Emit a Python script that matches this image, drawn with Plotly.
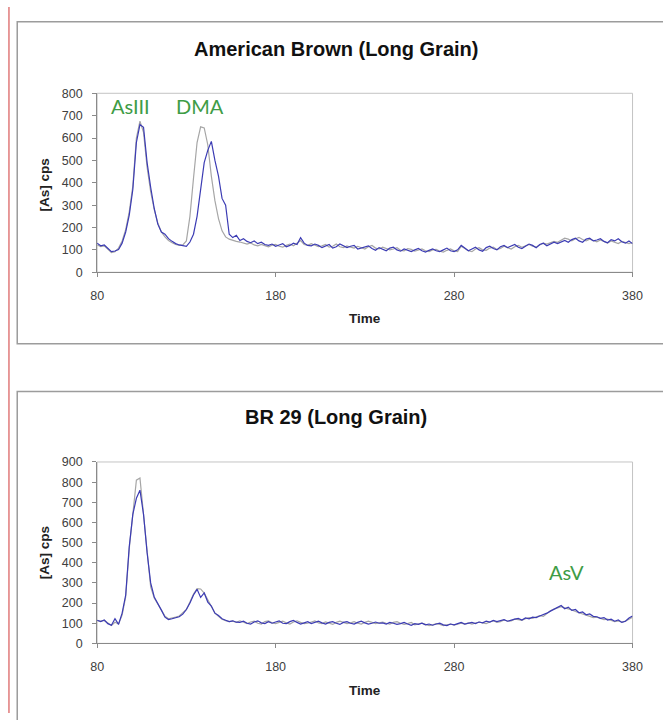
import plotly.graph_objects as go

W, H = 663, 720

# Retention time grid (s), one reading every 2 s
time = list(range(80, 381, 2))

# American Brown (Long Grain): standard (grey) and sample (blue) traces, cps
brown_std = [
    122, 115, 118, 105, 88, 92, 108, 140, 190, 270,
    385, 600, 675, 625, 470, 360, 280, 220, 180, 158,
    142, 132, 124, 120, 122, 140, 250, 420, 580, 650,
    645, 570, 430, 320, 240, 185, 158, 148, 142, 138,
    135, 130, 126, 131, 122, 118, 124, 119, 114, 121,
    124, 116, 112, 120, 126, 118, 130, 142, 124, 120,
    128, 122, 114, 118, 124, 112, 116, 126, 114, 110,
    118, 112, 108, 116, 111, 104, 114, 120, 108, 104,
    112, 106, 100, 104, 110, 98, 96, 106, 102, 94,
    98, 104, 96, 92, 100, 102, 94, 90, 98, 104,
    96, 92, 116, 104, 96, 92, 104, 110, 100, 98,
    108, 112, 102, 106, 116, 110, 104, 114, 120, 112,
    118, 124, 116, 112, 122, 130, 126, 132, 138, 134,
    142, 152, 148, 140, 150, 156, 146, 140, 148, 142,
    136, 144, 138, 130, 140, 134, 128, 138, 134, 128,
    132,
]
brown_sample = [
    130, 118, 122, 108, 92, 95, 102, 130, 180, 255,
    370, 580, 660, 648, 490, 380, 285, 215, 180, 170,
    150, 138, 128, 122, 118, 116, 135, 170, 250, 360,
    490, 545, 585, 500, 430, 330, 300, 170, 155, 165,
    142, 150, 138, 132, 140, 128, 134, 124, 120, 126,
    116, 122, 128, 114, 120, 130, 124, 154, 130, 120,
    118, 126, 120, 110, 116, 124, 108, 114, 126, 118,
    110, 116, 120, 104, 108, 114, 118, 106, 98, 110,
    104, 96, 108, 112, 100, 94, 104, 98, 92, 100,
    106, 96, 90, 98, 104, 96, 92, 100, 108, 96,
    92, 100, 120, 108, 96, 104, 112, 100, 94, 110,
    116, 106, 100, 114, 120, 110, 118, 124, 112, 106,
    116, 126, 120, 110, 124, 130, 118, 126, 134, 128,
    136, 142, 134, 146, 152, 140, 134, 148, 152, 140,
    144, 150, 138, 132, 146, 140, 150, 136, 130, 140,
    128,
]

# BR 29 (Long Grain): standard (grey) and sample (blue) traces, cps
br29_std = [
    113, 110, 114, 100, 89, 105, 96, 140, 230, 470,
    660, 810, 820, 650, 460, 280, 225, 195, 160, 135,
    122, 125, 130, 136, 150, 168, 205, 245, 272, 270,
    250, 215, 180, 150, 135, 120, 113, 108, 110, 104,
    112, 104, 98, 106, 110, 100, 96, 108, 112, 102,
    98, 104, 110, 102, 96, 106, 112, 104, 98, 100,
    108, 112, 102, 98, 106, 100, 94, 104, 110, 104,
    98, 102, 108, 100, 96, 104, 110, 104, 98, 102,
    106, 100, 96, 104, 108, 100, 94, 98, 104, 92,
    96, 100, 94, 88, 92, 98, 94, 88, 92, 96,
    90, 94, 100, 96, 102, 96, 100, 106, 102, 98,
    106, 112, 104, 108, 116, 110, 112, 120, 118, 114,
    122, 128, 124, 130, 138, 134, 148, 162, 170, 176,
    182, 176, 172, 166, 158, 150, 146, 140, 134, 128,
    130, 124, 118, 120, 114, 108, 112, 106, 110, 118,
    130,
]
br29_sample = [
    115, 108, 116, 98, 90, 122, 94, 150, 240, 480,
    640, 720, 760, 640, 450, 300, 230, 200, 165, 130,
    118, 122, 126, 132, 145, 168, 200, 240, 268, 228,
    250, 205, 185, 150, 138, 122, 115, 108, 112, 105,
    104, 110, 100, 96, 106, 112, 102, 98, 108, 100,
    106, 112, 100, 98, 108, 114, 104, 96, 102, 108,
    98, 104, 110, 102, 96, 104, 108, 100, 94, 104,
    108, 100, 96, 104, 110, 102, 96, 100, 106, 100,
    102, 96, 104, 100, 94, 98, 104, 96, 90, 98,
    94, 100, 92, 96, 90, 96, 100, 92, 88, 96,
    92, 98, 104, 96, 100, 104, 98, 106, 102, 110,
    106, 114, 108, 112, 118, 110, 116, 120, 124, 116,
    126, 122, 130, 128, 136, 142, 150, 160, 168, 178,
    188, 172, 180, 164, 168, 152, 156, 142, 146, 134,
    132, 124, 128, 116, 120, 110, 116, 104, 110, 126,
    136,
]

panel_titles = ["American Brown (Long Grain)", "BR 29 (Long Grain)"]
x_ticks = [80, 180, 280, 380]
y_ranges = [[0, 800], [0, 900]]

# Species labels: (panel, text, time, cps)
species = [
    (0, "AsIII", 98.6, 744),
    (0, "DMA", 137.8, 744),
    (1, "AsV", 343.1, 354),
]

GREY = "#a6a6a6"
BLUE = "#3c3cb4"
GREEN = "#3e9c46"
AXIS = "#8a8a8a"
FRAME = "#c4c4c4"
BASE_FONT = "Liberation Sans, Arial, sans-serif"


def px(x):
    return x / W


def py(y):
    return 1 - y / H


# Pixel geometry of the two panels
plot_left, plot_right = 92.5, 642
panels = [
    dict(top=88, bottom=270.5, box=(10.5, 15, 700, 343.5), title_y=43,
         ylabel_y=182, time_y=318),
    dict(top=464, bottom=649, box=(10.5, 392, 700, 760), title_y=418,
         ylabel_y=557, time_y=697),
]

fig = go.Figure()

series = [(brown_std, brown_sample), (br29_std, br29_sample)]
for i, (std, sample) in enumerate(series):
    xa = "x" if i == 0 else "x2"
    ya = "y" if i == 0 else "y2"
    fig.add_trace(go.Scatter(x=time, y=std, mode="lines", xaxis=xa, yaxis=ya,
                             line=dict(color=GREY, width=1.2), showlegend=False,
                             hoverinfo="skip"))
    fig.add_trace(go.Scatter(x=time, y=sample, mode="lines", xaxis=xa, yaxis=ya,
                             line=dict(color=BLUE, width=1.2), showlegend=False,
                             hoverinfo="skip"))

axis_common = dict(
    showgrid=False, zeroline=False, showline=True, linecolor=AXIS, linewidth=1,
    ticks="outside", ticklen=4, tickcolor=AXIS, tickwidth=1,
    tickfont=dict(family=BASE_FONT, size=12.5, color="#404040"),
)

layout_axes = {}
for i, p in enumerate(panels):
    sfx = "" if i == 0 else "2"
    layout_axes["xaxis" + sfx] = dict(
        axis_common, domain=[px(plot_left), px(plot_right)], range=[80, 380],
        tickvals=x_ticks, anchor="y" + sfx, ticklabelstandoff=8,
    )
    layout_axes["yaxis" + sfx] = dict(
        axis_common, domain=[py(p["bottom"]), py(p["top"])], range=y_ranges[i],
        dtick=100, anchor="x" + sfx, ticklabelstandoff=7,
    )

shapes = []
annotations = []
for i, p in enumerate(panels):
    x0, y0, x1, y1 = p["box"]
    # outer chart frame
    shapes.append(dict(type="rect", xref="paper", yref="paper",
                       x0=px(x0), x1=px(x1), y0=py(y1), y1=py(y0),
                       line=dict(color="#9c9c9c", width=1.5), layer="below"))
    # light frame round the plot area
    shapes.append(dict(type="rect", xref="paper", yref="paper",
                       x0=px(plot_left), x1=px(plot_right),
                       y0=py(p["bottom"]), y1=py(p["top"]),
                       line=dict(color=FRAME, width=1), layer="below"))
    annotations.append(dict(text="<b>%s</b>" % panel_titles[i], xref="paper", yref="paper",
                            x=px(338), y=py(p["title_y"]), showarrow=False,
                            xanchor="center", yanchor="middle",
                            font=dict(family=BASE_FONT, size=20, color="#111111")))
    annotations.append(dict(text="<b>[As] cps</b>", xref="paper", yref="paper",
                            x=px(38), y=py(p["ylabel_y"]), showarrow=False, textangle=-90,
                            xanchor="center", yanchor="middle",
                            font=dict(family=BASE_FONT, size=13.5, color="#222222")))
    annotations.append(dict(text="<b>Time</b>", xref="paper", yref="paper",
                            x=px(367), y=py(p["time_y"]), showarrow=False,
                            xanchor="center", yanchor="middle",
                            font=dict(family=BASE_FONT, size=13.5, color="#222222")))

for panel, text, t, v in species:
    sfx = "" if panel == 0 else "2"
    annotations.append(dict(text=text, xref="x" + sfx, yref="y" + sfx, x=t, y=v,
                            showarrow=False, xanchor="center", yanchor="middle",
                            font=dict(family="Lato, Open Sans, sans-serif", size=20,
                                      color=GREEN)))

# thin red rule along the left edge of the page
shapes.append(dict(type="line", xref="paper", yref="paper", x0=px(2), x1=px(2),
                   y0=0, y1=1, line=dict(color="#e07a7a", width=1.5)))

fig.update_layout(
    width=W, height=H, margin=dict(l=0, r=0, t=0, b=0),
    paper_bgcolor="white", plot_bgcolor="white",
    shapes=shapes, annotations=annotations, showlegend=False,
    **layout_axes,
)

fig.write_html("out.html")
